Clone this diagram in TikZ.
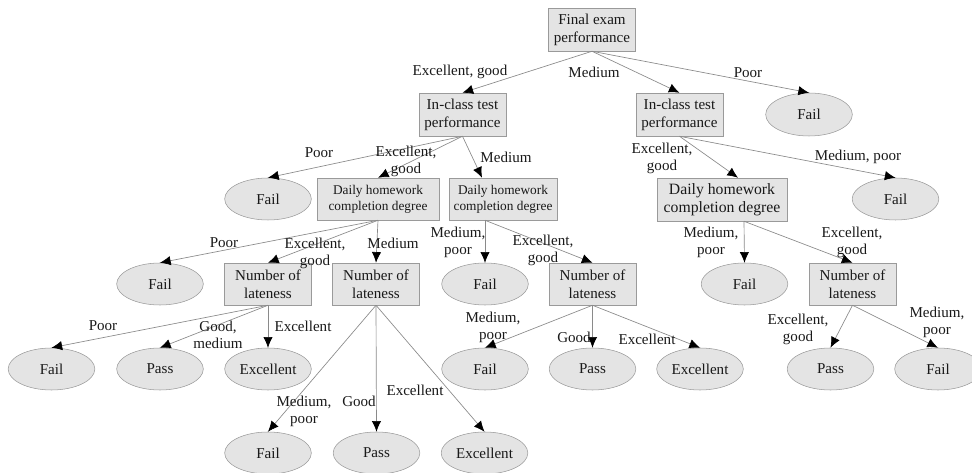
\documentclass[tikz,border=0pt]{standalone}
\usepackage{fontspec}
\setmainfont{Liberation Serif}
\usetikzlibrary{arrows.meta,shapes.geometric}
\definecolor{nodefill}{HTML}{E4E4E4}
\definecolor{nodeline}{HTML}{9A9A9A}
\definecolor{edgeline}{HTML}{8A8A8A}
\tikzset{
	every node/.style={font=\fontsize{11.3}{13.5}\selectfont, text=black!90, inner sep=0pt},
	testbox/.style={draw=nodeline, fill=nodefill, rectangle, align=center, minimum width=65.25pt, minimum height=32.25pt},
	leaf/.style={draw=nodeline, fill=nodefill, ellipse, minimum width=65pt, minimum height=31.5pt},
	cond/.style={align=center, font=\fontsize{11.3}{12.75}\selectfont},
	small/.style={font=\fontsize{10}{12}\selectfont},
	large/.style={font=\fontsize{11.8}{13.5}\selectfont},
	>={Latex[length=8pt,width=7pt,color=black]}
}

\begin{document}
\begin{tikzpicture}[x=0.75pt, y=-0.75pt, ->,
		every edge/.append style={draw=edgeline, line width=0.5pt}]
		\useasboundingbox (0,0) rectangle (972,473);
		
		% decision nodes
		\node[testbox] (root) at (592,29.5) {Final exam\\performance};
		\node[testbox] (testL) at (462.5,114.5) {In-class test\\performance};
		\node[testbox] (testR) at (679.5,114.5) {In-class test\\performance};
		\node[testbox, small, minimum width=91.5pt, minimum height=31.5pt] (homeL) at (378,199) {Daily homework\\completion degree};
		\node[testbox, small, minimum width=81pt, minimum height=31.5pt] (homeM) at (503,199) {Daily homework\\completion degree};
		\node[testbox, large, minimum width=97.5pt] (homeR) at (722,199.5) {Daily homework\\completion degree};
		\node[testbox, minimum height=31.5pt] (lateA) at (268,284) {Number of\\lateness};
		\node[testbox, minimum height=31.5pt] (lateB) at (376,284) {Number of\\lateness};
		\node[testbox, minimum height=31.5pt] (lateC) at (592.5,284) {Number of\\lateness};
		\node[testbox, minimum height=31.5pt] (lateD) at (852.5,284) {Number of\\lateness};
		
		% leaves
		\node[leaf, minimum height=32.25pt] (failR1) at (809,114.5) {Fail};
		\node[leaf] (failL2) at (268,199) {Fail};
		\node[leaf] (failR2) at (895.5,199) {Fail};
		\node[leaf] (failL3) at (160,284) {Fail};
		\node[leaf] (failM3) at (485,284) {Fail};
		\node[leaf] (failR3) at (744.5,284) {Fail};
		\node[leaf] (failA4) at (51.5,369) {Fail};
		\node[leaf] (passA4) at (160,369) {Pass};
		\node[leaf] (excA4) at (268,369) {Excellent};
		\node[leaf] (failC4) at (485,369) {Fail};
		\node[leaf] (passC4) at (592.5,369) {Pass};
		\node[leaf] (excC4) at (700,369) {Excellent};
		\node[leaf] (passD4) at (830.5,369) {Pass};
		\node[leaf] (failD4) at (938,369) {Fail};
		\node[leaf] (failB5) at (268,453) {Fail};
		\node[leaf] (passB5) at (376.5,453) {Pass};
		\node[leaf] (excB5) at (484.5,453) {Excellent};
		
		% branches
		\path (root.south) edge (testL.north) edge (testR.north) edge (failR1.north);
		\path (testL.south) edge (failL2.north) edge (homeL.north) edge ([xshift=-15.75pt]homeM.north);
		\path (testR.south) edge ([xshift=12pt]homeR.north) edge (failR2.north);
		\path (homeL.south) edge (failL3.north) edge (lateA.north) edge (lateB.north);
		\path ([xshift=-13.5pt]homeM.south) edge (failM3.north) edge (lateC.north);
		\path ([xshift=16.5pt]homeR.south) edge (failR3.north) edge (lateD.north);
		\path (lateA.south) edge (failA4.north) edge (passA4.north) edge (excA4.north);
		\path (lateB.south) edge (failB5.north) edge (passB5.north) edge (excB5.north);
		\path (lateC.south) edge (failC4.north) edge (passC4.north) edge (excC4.north);
		\path (lateD.south) edge (passD4.north) edge (failD4.north);
		
		% branch labels
		\node[cond] (cRootA) at (460,72) {Excellent, good};
		\node[cond] (cRootB) at (594,72) {Medium};
		\node[cond] (cRootC) at (748,73) {Poor};
		\node[cond] (cTestLA) at (319,153) {Poor};
		\node[cond] (cTestLB) at (406,161.5) {Excellent,\\good};
		\node[cond] (cTestLC) at (506,157) {Medium};
		\node[cond] (cTestRA) at (662,158.5) {Excellent,\\good};
		\node[cond] (cTestRB) at (858,157) {Medium, poor};
		\node[cond] (cHomeLA) at (224,243) {Poor};
		\node[cond] (cHomeLB) at (315,253.5) {Excellent,\\good};
		\node[cond] (cHomeLC) at (393,243) {Medium};
		\node[cond] (cHomeMA) at (458,242) {Medium,\\poor};
		\node[cond] (cHomeMB) at (543,250) {Excellent,\\good};
		\node[cond] (cHomeRA) at (711,242) {Medium,\\poor};
		\node[cond] (cHomeRB) at (852,242) {Excellent,\\good};
		\node[cond] (cLateAA) at (103,326) {Poor};
		\node[cond] (cLateAB) at (218,335) {Good,\\medium};
		\node[cond] (cLateAC) at (303,326) {Excellent};
		\node[cond] (cLateBA) at (304,411) {Medium,\\poor};
		\node[cond] (cLateBB) at (359,401) {Good};
		\node[cond] (cLateBC) at (415,390) {Excellent};
		\node[cond] (cLateCA) at (493,327) {Medium,\\poor};
		\node[cond] (cLateCB) at (574,337) {Good};
		\node[cond] (cLateCC) at (647,339) {Excellent};
		\node[cond] (cLateDA) at (798,329) {Excellent,\\good};
		\node[cond] (cLateDB) at (937,322) {Medium,\\poor};
		\end{tikzpicture}
\end{document}
